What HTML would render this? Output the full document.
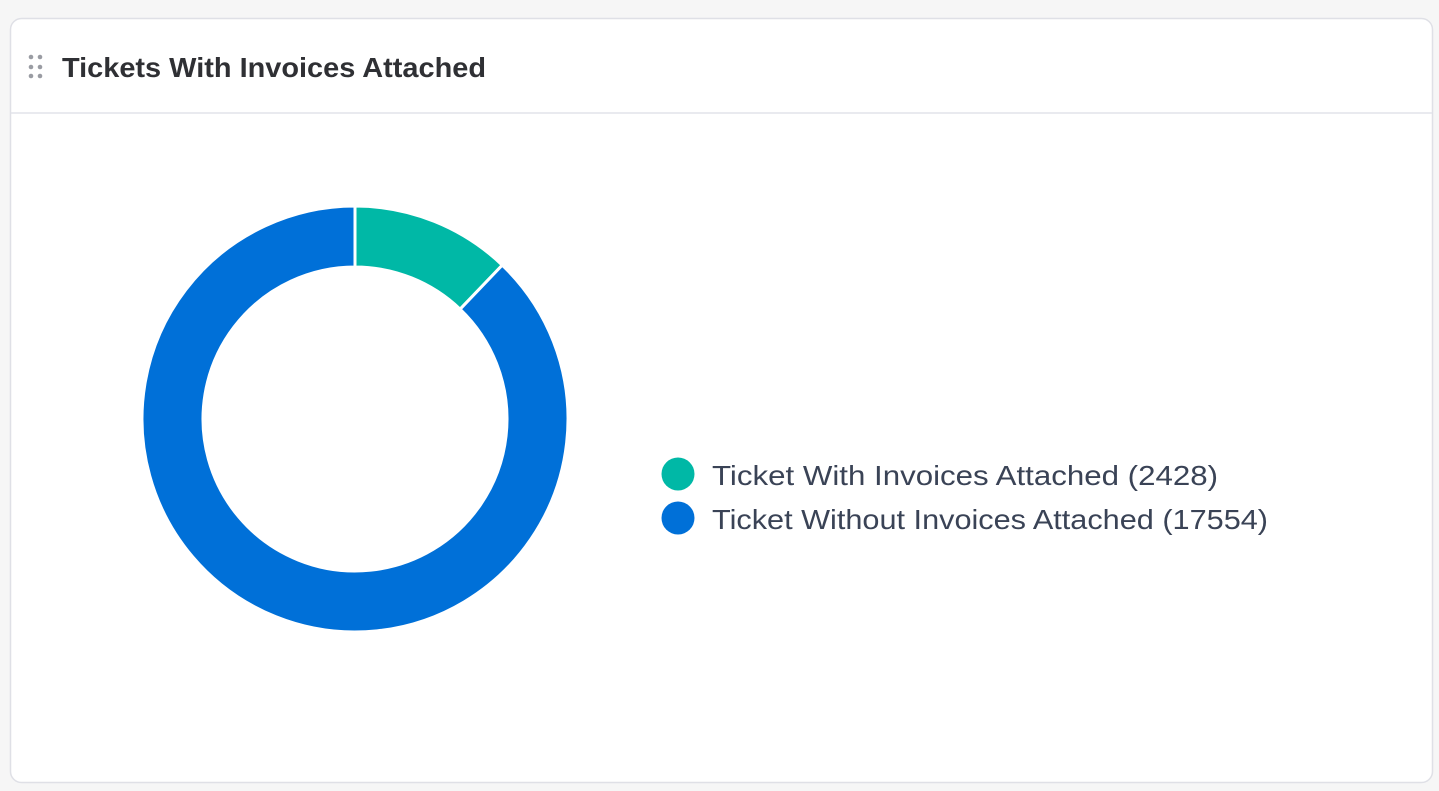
<!DOCTYPE html>
<html><head><meta charset="utf-8"><style>
html,body{margin:0;padding:0;background:#f6f6f6;width:1439px;height:791px;overflow:hidden;font-family:"Liberation Sans",sans-serif}
</style></head><body>
<svg width="1439" height="791" viewBox="0 0 1439 791">
<rect x="10.5" y="18.5" width="1422" height="764" rx="11" fill="#fff" stroke="#dfe0e6" stroke-width="1.5"/>
<line x1="11" y1="113" x2="1432" y2="113" stroke="#e2e3ea" stroke-width="1.5"/>
<g fill="#9a9ca3">
<circle cx="31" cy="57" r="2.3"/><circle cx="40" cy="57" r="2.3"/>
<circle cx="31" cy="67" r="2.3"/><circle cx="40" cy="67" r="2.3"/>
<circle cx="31" cy="76" r="2.3"/><circle cx="40" cy="76" r="2.3"/>
</g>
<text x="62" y="77" font-size="28" font-weight="bold" fill="#2f3034" textLength="424" lengthAdjust="spacingAndGlyphs">Tickets With Invoices Attached</text>
<g id="donut"></g>
<g id="legend"></g>
</svg>
<script>
const labels = ["Ticket With Invoices Attached", "Ticket Without Invoices Attached"];
const values = [2428, 17554];
const colors = ["#00b8a6", "#0070d8"];
const NS = "http://www.w3.org/2000/svg";
const cx = 355, cy = 419, R = 213, r = 152;
const total = values.reduce((a,b)=>a+b,0);
function pt(rad, a){ return [cx + rad*Math.sin(a), cy - rad*Math.cos(a)]; }
let start = 0;
const donut = document.getElementById("donut");
values.forEach((v,i)=>{
  const end = start + v/total*2*Math.PI;
  const large = (end-start) > Math.PI ? 1 : 0;
  const [x1,y1]=pt(R,start),[x2,y2]=pt(R,end),[x3,y3]=pt(r,end),[x4,y4]=pt(r,start);
  const p = document.createElementNS(NS,"path");
  p.setAttribute("d",`M${x1},${y1}A${R},${R} 0 ${large} 1 ${x2},${y2}L${x3},${y3}A${r},${r} 0 ${large} 0 ${x4},${y4}Z`);
  p.setAttribute("fill",colors[i]);
  p.setAttribute("stroke","#fff");
  p.setAttribute("stroke-width","3");
  
  
  donut.appendChild(p);
  start = end;
});
const legend = document.getElementById("legend");
const widths = [506, 556];
labels.forEach((l,i)=>{
  const y = 474 + i*44;
  const c = document.createElementNS(NS,"circle");
  c.setAttribute("cx",678); c.setAttribute("cy",y); c.setAttribute("r",16.5);
  c.setAttribute("fill",colors[i]);
  
  
  legend.appendChild(c);
  const t = document.createElementNS(NS,"text");
  t.setAttribute("x",712); t.setAttribute("y",y+11);
  t.setAttribute("font-size","28"); t.setAttribute("fill","#3a4356");
  t.setAttribute("textLength",widths[i]); t.setAttribute("lengthAdjust","spacingAndGlyphs");
  t.textContent = `${l} (${values[i]})`;
  
  
  legend.appendChild(t);
});
</script>
</body></html>
